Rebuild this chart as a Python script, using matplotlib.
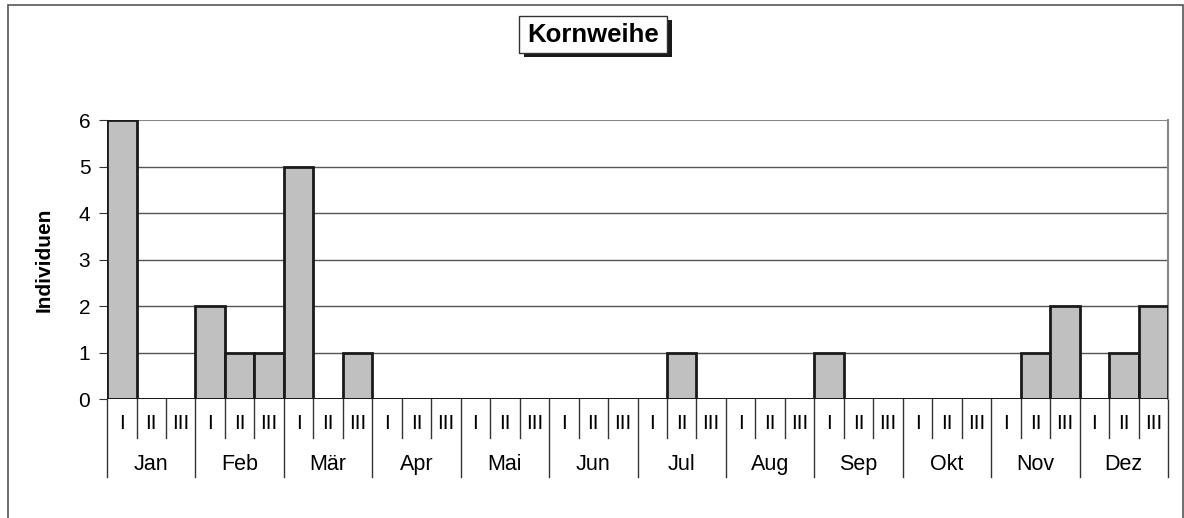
import numpy as np
import matplotlib.pyplot as plt
import matplotlib.transforms as mtransforms
from matplotlib.patches import Rectangle

plt.rcParams['font.family'] = ['Liberation Sans', 'DejaVu Sans']

# Data: counts per dekade (I, II, III) of each month
months = ['Jan', 'Feb', 'Mär', 'Apr', 'Mai', 'Jun', 'Jul', 'Aug', 'Sep', 'Okt', 'Nov', 'Dez']
dekaden = ['I', 'II', 'III']
counts = [6, 0, 0,  2, 1, 1,  5, 0, 1,  0, 0, 0,
          0, 0, 0,  0, 0, 0,  0, 1, 0,  0, 0, 0,
          1, 0, 0,  0, 0, 0,  0, 1, 2,  0, 1, 2]

fig = plt.figure(figsize=(11.84, 5.18), dpi=100)
ax = fig.add_axes([0.0904, 0.2297, 0.8961, 0.5386])

x = np.arange(len(counts))
ax.bar(x, counts, width=1.0, color='#c0c0c0', edgecolor='#1a1a1a', linewidth=2, zorder=3)

ax.set_xlim(-0.5, len(counts) - 0.5)
ax.set_ylim(0, 6)
ax.set_yticks(range(7))
ax.tick_params(axis='y', labelsize=15, length=6, color='#333333', pad=6)
ax.set_xticks([])
for y in range(1, 6):
    ax.axhline(y, color='#555555', linewidth=1, zorder=1)
ax.axhline(6, color='#888888', linewidth=1.5, zorder=1)
ax.axhline(0, color='#1a1a1a', linewidth=2, zorder=4)
for s in ['top', 'bottom', 'left']:
    ax.spines[s].set_visible(False)
ax.spines['right'].set_color('#888888')
ax.spines['right'].set_linewidth(1.5)
ax.set_ylabel('Individuen', fontsize=15, fontweight='bold', labelpad=18)

# two-row category axis below the plot
trans = mtransforms.blended_transform_factory(ax.transData, ax.transAxes)
for i in range(len(counts) + 1):
    b = i - 0.5
    low = -0.28 if i % 3 == 0 else -0.14
    ax.plot([b, b], [0, low], transform=trans, color='#333333', linewidth=1, clip_on=False)
for i in range(len(counts)):
    ax.text(i, -0.086, dekaden[i % 3], transform=trans, ha='center', va='center', fontsize=15)
for m, name in enumerate(months):
    ax.text(3 * m + 1, -0.233, name, transform=trans, ha='center', va='center', fontsize=15.5)

# title box with shadow
fig.patches.append(Rectangle((0.4426, 0.8900), 0.1250, 0.0715, transform=fig.transFigure,
                             facecolor='#1a1a1a', edgecolor='none'))
fig.patches.append(Rectangle((0.4383, 0.8977), 0.1250, 0.0715, transform=fig.transFigure,
                             facecolor='white', edgecolor='#333333', linewidth=1))
fig.text(0.5008, 0.9320, 'Kornweihe', ha='center', va='center', fontsize=18.5, fontweight='bold')

# outer frame
fig.patches.append(Rectangle((0.0068, -0.01), 0.992, 0.9998, transform=fig.transFigure,
                             facecolor='none', edgecolor='#555555', linewidth=1.2))

fig.savefig('out.png', dpi=100)
